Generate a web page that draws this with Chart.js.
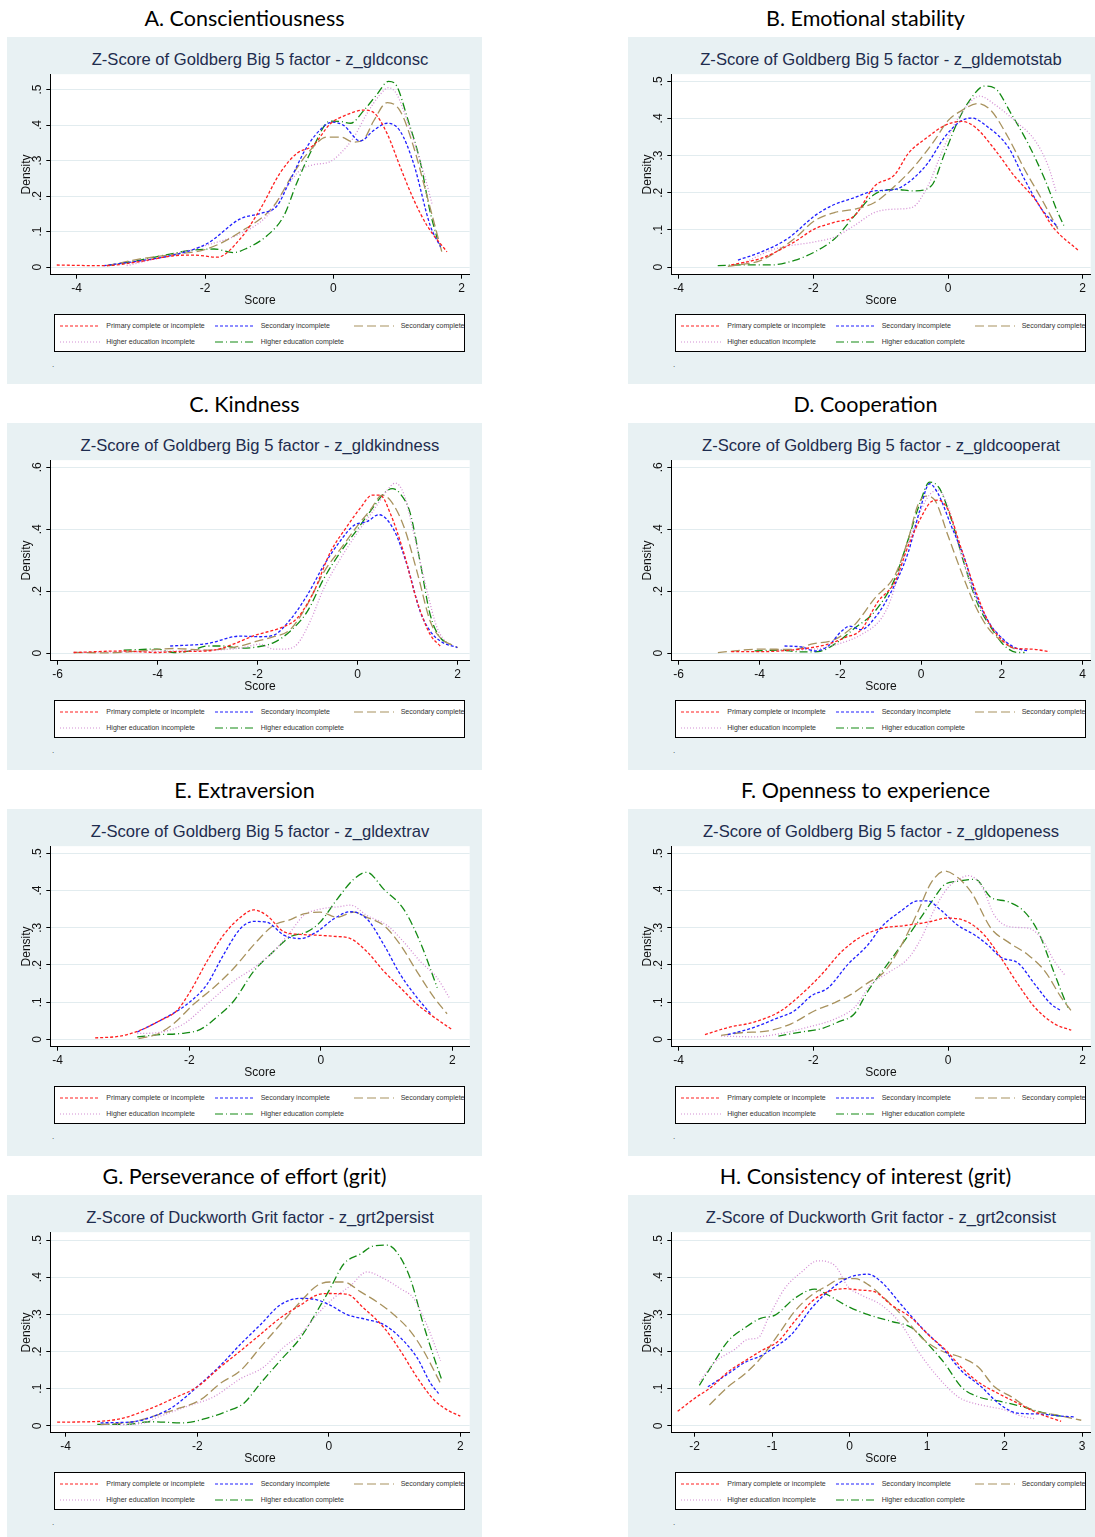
<!DOCTYPE html>
<html>
<head>
<meta charset="utf-8">
<script src="https://cdn.jsdelivr.net/npm/chart.js@4.4.1/dist/chart.umd.min.js"></script>
<style>
html, body { margin: 0; padding: 0; background: #fff; width: 1095px; height: 1537px; overflow: hidden; }
.panel { position: absolute; width: 475px; height: 346px; }
.bg { position: absolute; left: 0; top: -1px; width: 475px; height: 347px; background: #e8f1f3; }
.ptitle { position: absolute; left: 0; width: 475px; top: -34px; text-align: center; font: 21.5px Lato, sans-serif; color: #000; white-space: nowrap; line-height: 28px; }
.ctitle { position: absolute; left: 0; width: 506px; top: 12px; text-align: center; font: 16.6px "Liberation Sans", Arial, sans-serif; color: #1e2c4e; white-space: nowrap; line-height: 20px; }
.note { position: absolute; left: 45px; top: 322px; font: 8px "Liberation Sans", Arial, sans-serif; color: #333; }
canvas { position: absolute; left: 0; top: 25px; }
.legend { position: absolute; left: 47.3px; top: 275.7px; width: 411px; height: 38.6px; box-sizing: border-box; border: 1.3px solid #000; background: #fff; overflow: hidden; }
.legend span { position: absolute; font: 7px "Liberation Sans", Arial, sans-serif; color: #333; white-space: nowrap; line-height: 10px; }
.legend svg { position: absolute; }
</style>
</head>
<body>
<script>
// group names and styles
const seriesNames = ['Primary complete or incomplete', 'Secondary incomplete', 'Secondary complete',
  'Higher education incomplete', 'Higher education complete'];
const lineColors = ['#ff1f1f', '#1f1fff', '#a8925e', '#d48fd4', '#138a13'];
const lineDashes = [[3, 2], [3, 2], [9, 4], [1, 2], [8, 3, 1, 3]];

// A. Conscientiousness  [score, density]
const consPrimary = [[-4.31,0.006],[-3.58,0.004],[-3.01,0.016],[-2.49,0.032],[-2.18,0.034],[-1.81,0.028],[-1.45,0.080],[-1.14,0.163],[-0.83,0.265],[-0.57,0.320],[-0.31,0.343],[-0.05,0.403],[0.21,0.429],[0.47,0.442],[0.63,0.435],[0.84,0.375],[1.04,0.283],[1.25,0.191],[1.46,0.117],[1.77,0.043]];
const consSecInc = [[-3.58,0.004],[-3.01,0.018],[-2.49,0.034],[-1.97,0.066],[-1.45,0.136],[-1.14,0.151],[-0.88,0.172],[-0.67,0.246],[-0.41,0.339],[-0.15,0.396],[-0.02,0.408],[0.16,0.399],[0.42,0.355],[0.63,0.385],[0.84,0.405],[1.04,0.383],[1.25,0.292],[1.51,0.117],[1.67,0.057]];
const consSecComp = [[-3.53,0.004],[-3.01,0.023],[-2.49,0.036],[-1.97,0.051],[-1.45,0.099],[-0.93,0.172],[-0.62,0.265],[-0.36,0.329],[-0.10,0.366],[0.11,0.366],[0.32,0.352],[0.47,0.359],[0.63,0.412],[0.84,0.463],[1.04,0.440],[1.25,0.339],[1.46,0.200],[1.69,0.043]];
const consHighInc = [[-3.22,0.004],[-2.49,0.036],[-1.97,0.062],[-1.45,0.094],[-1.03,0.145],[-0.72,0.228],[-0.51,0.274],[-0.31,0.288],[-0.05,0.297],[0.11,0.320],[0.32,0.366],[0.52,0.431],[0.73,0.486],[0.86,0.505],[0.99,0.486],[1.20,0.385],[1.41,0.265],[1.54,0.177]];
const consHighComp = [[-3.53,0.004],[-3.01,0.020],[-2.49,0.039],[-2.18,0.048],[-1.86,0.051],[-1.55,0.041],[-1.35,0.053],[-1.03,0.089],[-0.77,0.145],[-0.57,0.237],[-0.31,0.339],[-0.05,0.411],[0.11,0.410],[0.27,0.405],[0.47,0.440],[0.68,0.486],[0.86,0.523],[0.99,0.509],[1.15,0.422],[1.36,0.292],[1.51,0.154],[1.62,0.080]];

// B. Emotional stability
const emotPrimary = [[-3.22,0.006],[-2.77,0.024],[-2.28,0.068],[-1.98,0.103],[-1.68,0.121],[-1.39,0.138],[-1.09,0.218],[-0.79,0.249],[-0.59,0.306],[-0.30,0.350],[-0.05,0.381],[0.20,0.392],[0.40,0.377],[0.70,0.315],[0.99,0.244],[1.29,0.183],[1.58,0.103],[1.93,0.046]];
const emotSecInc = [[-3.12,0.019],[-2.77,0.041],[-2.38,0.077],[-1.98,0.138],[-1.73,0.165],[-1.39,0.187],[-1.09,0.205],[-0.79,0.209],[-0.54,0.235],[-0.30,0.280],[-0.05,0.350],[0.20,0.394],[0.35,0.401],[0.59,0.377],[0.89,0.324],[1.14,0.235],[1.39,0.156],[1.63,0.108]];
const emotSecComp = [[-3.27,0.002],[-2.77,0.019],[-2.28,0.077],[-1.98,0.125],[-1.68,0.147],[-1.39,0.156],[-1.09,0.174],[-0.79,0.218],[-0.50,0.271],[-0.20,0.341],[0.00,0.394],[0.20,0.421],[0.45,0.440],[0.64,0.421],[0.89,0.350],[1.14,0.262],[1.39,0.183],[1.63,0.103]];
const emotHighInc = [[-3.07,0.008],[-2.57,0.049],[-1.98,0.068],[-1.68,0.081],[-1.39,0.112],[-1.09,0.147],[-0.79,0.156],[-0.54,0.160],[-0.30,0.218],[-0.10,0.306],[0.10,0.385],[0.30,0.438],[0.47,0.460],[0.69,0.438],[0.99,0.394],[1.29,0.341],[1.49,0.271],[1.61,0.200]];
const emotHighComp = [[-3.42,0.004],[-3.02,0.006],[-2.62,0.006],[-2.28,0.018],[-1.98,0.041],[-1.68,0.077],[-1.39,0.138],[-1.09,0.196],[-0.79,0.209],[-0.50,0.205],[-0.25,0.218],[-0.05,0.306],[0.15,0.394],[0.35,0.456],[0.54,0.487],[0.69,0.482],[0.94,0.412],[1.19,0.332],[1.44,0.235],[1.63,0.147],[1.73,0.108]];

// C. Kindness
const kindPrimary = [[-5.68,0.002],[-4.68,0.007],[-4.01,0.002],[-3.68,0.005],[-3.01,0.007],[-2.68,0.018],[-2.01,0.060],[-1.55,0.081],[-1.21,0.113],[-0.88,0.198],[-0.55,0.325],[-0.21,0.410],[0.05,0.468],[0.29,0.510],[0.45,0.510],[0.65,0.452],[0.92,0.325],[1.19,0.166],[1.45,0.060],[1.65,0.023]];
const kindSecInc = [[-3.75,0.023],[-3.01,0.031],[-2.35,0.055],[-1.95,0.053],[-1.68,0.058],[-1.35,0.108],[-1.01,0.187],[-0.68,0.283],[-0.35,0.362],[-0.08,0.412],[0.19,0.425],[0.42,0.447],[0.72,0.399],[0.99,0.283],[1.25,0.134],[1.45,0.071],[1.65,0.039],[1.99,0.018]];
const kindSecComp = [[-5.68,0.002],[-5.01,0.001],[-4.35,0.007],[-3.68,0.015],[-3.01,0.010],[-2.35,0.023],[-2.01,0.039],[-1.68,0.053],[-1.35,0.076],[-1.01,0.156],[-0.68,0.261],[-0.35,0.335],[-0.01,0.410],[0.25,0.462],[0.49,0.510],[0.65,0.494],[0.92,0.410],[1.19,0.261],[1.45,0.103],[1.65,0.050],[2.00,0.018]];
const kindHighInc = [[-5.68,0.002],[-3.68,0.007],[-2.35,0.016],[-1.95,0.029],[-1.68,0.013],[-1.48,0.013],[-1.21,0.029],[-0.95,0.103],[-0.68,0.208],[-0.35,0.304],[-0.01,0.388],[0.32,0.462],[0.59,0.526],[0.75,0.549],[0.92,0.515],[1.12,0.388],[1.39,0.198],[1.59,0.081],[1.79,0.029]];
const kindHighComp = [[-4.68,0.010],[-4.01,0.013],[-3.68,0.002],[-3.35,0.007],[-3.01,0.023],[-2.68,0.023],[-2.35,0.016],[-2.01,0.020],[-1.68,0.034],[-1.35,0.071],[-1.01,0.134],[-0.68,0.240],[-0.35,0.325],[-0.01,0.399],[0.32,0.473],[0.52,0.515],[0.69,0.531],[0.85,0.515],[1.05,0.452],[1.25,0.293],[1.45,0.124],[1.65,0.050],[1.85,0.029]];

// D. Cooperation
const coopPrimary = [[-4.70,0.005],[-3.95,0.005],[-3.13,0.011],[-2.30,0.029],[-1.89,0.050],[-1.48,0.076],[-1.07,0.166],[-0.65,0.230],[-0.32,0.346],[0.01,0.441],[0.25,0.489],[0.42,0.494],[0.67,0.462],[1.00,0.335],[1.33,0.208],[1.66,0.103],[1.99,0.044],[2.32,0.016],[2.73,0.013],[3.18,0.005]];
const coopSecInc = [[-3.38,0.023],[-2.96,0.020],[-2.63,0.007],[-2.30,0.023],[-1.97,0.071],[-1.77,0.087],[-1.48,0.076],[-1.15,0.113],[-0.74,0.198],[-0.32,0.325],[-0.03,0.462],[0.21,0.547],[0.42,0.515],[0.75,0.410],[1.08,0.304],[1.33,0.198],[1.66,0.103],[1.99,0.050],[2.32,0.018],[2.65,0.007]];
const coopSecComp = [[-5.03,0.002],[-3.95,0.013],[-3.13,0.012],[-2.72,0.029],[-2.14,0.044],[-1.64,0.092],[-1.15,0.177],[-0.65,0.251],[-0.32,0.367],[-0.08,0.478],[0.13,0.507],[0.34,0.494],[0.67,0.378],[1.00,0.261],[1.33,0.156],[1.66,0.081],[1.99,0.039],[2.40,0.007]];
const coopHighInc = [[-3.54,0.010],[-2.63,0.013],[-2.06,0.029],[-1.48,0.060],[-0.98,0.113],[-0.74,0.177],[-0.49,0.283],[-0.16,0.410],[0.17,0.505],[0.42,0.526],[0.67,0.473],[1.00,0.314],[1.33,0.187],[1.66,0.103],[1.99,0.050],[2.23,0.020]];
const coopHighComp = [[-4.12,0.007],[-3.54,0.010],[-2.96,0.004],[-2.55,0.005],[-2.14,0.029],[-1.64,0.081],[-1.15,0.134],[-0.65,0.240],[-0.32,0.367],[-0.03,0.484],[0.21,0.552],[0.46,0.531],[0.75,0.431],[1.08,0.283],[1.41,0.156],[1.74,0.081],[2.07,0.023],[2.40,0.002],[2.56,0.002]];

// E. Extraversion
const extrPrimary = [[-3.43,0.004],[-3.05,0.009],[-2.74,0.025],[-2.44,0.051],[-2.19,0.077],[-1.98,0.130],[-1.73,0.210],[-1.48,0.280],[-1.22,0.328],[-1.02,0.348],[-0.82,0.333],[-0.56,0.289],[-0.31,0.282],[-0.06,0.280],[0.20,0.277],[0.45,0.271],[0.70,0.236],[0.96,0.183],[1.21,0.139],[1.46,0.095],[1.72,0.060],[2.00,0.026]];
const extrSecInc = [[-2.79,0.020],[-2.44,0.051],[-2.03,0.095],[-1.73,0.148],[-1.48,0.227],[-1.22,0.298],[-1.02,0.317],[-0.82,0.315],[-0.56,0.280],[-0.31,0.271],[-0.06,0.289],[0.20,0.324],[0.45,0.343],[0.70,0.324],[0.96,0.254],[1.21,0.174],[1.46,0.113],[1.67,0.069]];
const extrSecComp = [[-2.77,0.002],[-2.49,0.014],[-2.24,0.042],[-1.93,0.095],[-1.63,0.139],[-1.32,0.192],[-1.02,0.254],[-0.72,0.306],[-0.46,0.322],[-0.26,0.337],[-0.01,0.342],[0.25,0.328],[0.50,0.342],[0.70,0.328],[0.96,0.306],[1.21,0.254],[1.46,0.183],[1.72,0.113],[1.92,0.069]];
const extrHighInc = [[-2.79,0.016],[-2.49,0.018],[-2.08,0.042],[-1.73,0.095],[-1.32,0.157],[-1.02,0.192],[-0.72,0.236],[-0.46,0.289],[-0.26,0.333],[-0.01,0.350],[0.30,0.357],[0.45,0.361],[0.70,0.333],[1.01,0.306],[1.26,0.262],[1.51,0.210],[1.77,0.165],[1.95,0.113]];
const extrHighComp = [[-2.79,0.007],[-2.44,0.013],[-2.13,0.016],[-1.83,0.027],[-1.58,0.060],[-1.32,0.104],[-1.02,0.183],[-0.72,0.236],[-0.46,0.276],[-0.21,0.289],[-0.01,0.315],[0.25,0.377],[0.50,0.430],[0.70,0.449],[0.96,0.403],[1.26,0.350],[1.51,0.262],[1.77,0.139]];

// F. Openness to experience
const openPrimary = [[-3.61,0.013],[-3.27,0.032],[-2.87,0.047],[-2.48,0.077],[-2.18,0.121],[-1.88,0.174],[-1.58,0.236],[-1.29,0.276],[-0.99,0.298],[-0.64,0.306],[-0.30,0.315],[0.00,0.326],[0.30,0.315],[0.54,0.280],[0.79,0.218],[1.04,0.148],[1.29,0.086],[1.58,0.042],[1.83,0.025]];
const openSecInc = [[-3.27,0.013],[-2.87,0.033],[-2.57,0.055],[-2.28,0.077],[-2.03,0.117],[-1.78,0.139],[-1.49,0.201],[-1.19,0.254],[-0.99,0.302],[-0.69,0.346],[-0.45,0.372],[-0.30,0.372],[-0.10,0.346],[0.15,0.306],[0.40,0.280],[0.59,0.254],[0.79,0.220],[1.04,0.205],[1.29,0.148],[1.53,0.095],[1.68,0.077]];
const openSecComp = [[-3.37,0.011],[-3.07,0.018],[-2.67,0.023],[-2.33,0.042],[-1.98,0.077],[-1.68,0.099],[-1.44,0.121],[-1.19,0.152],[-0.94,0.183],[-0.69,0.254],[-0.45,0.342],[-0.25,0.421],[-0.05,0.452],[0.15,0.434],[0.35,0.394],[0.64,0.298],[0.89,0.262],[1.19,0.227],[1.44,0.183],[1.68,0.113],[1.83,0.077]];
const openHighInc = [[-3.37,0.009],[-2.87,0.007],[-2.48,0.016],[-2.08,0.033],[-1.68,0.055],[-1.39,0.086],[-1.14,0.148],[-0.89,0.179],[-0.59,0.218],[-0.40,0.271],[-0.20,0.350],[0.00,0.408],[0.20,0.434],[0.30,0.440],[0.50,0.412],[0.69,0.333],[0.94,0.302],[1.19,0.299],[1.39,0.271],[1.58,0.210],[1.73,0.174]];
const openHighComp = [[-2.52,0.009],[-2.18,0.020],[-1.88,0.029],[-1.63,0.047],[-1.39,0.069],[-1.19,0.130],[-0.94,0.192],[-0.69,0.254],[-0.45,0.315],[-0.25,0.368],[-0.05,0.416],[0.15,0.425],[0.40,0.430],[0.64,0.381],[0.89,0.370],[1.14,0.342],[1.34,0.289],[1.53,0.201],[1.68,0.130],[1.78,0.086]];

// G. Perseverance of effort (grit)
const persPrimary = [[-4.13,0.010],[-3.62,0.011],[-3.17,0.019],[-2.76,0.043],[-2.36,0.074],[-2.00,0.105],[-1.65,0.158],[-1.34,0.202],[-1.04,0.246],[-0.74,0.290],[-0.43,0.325],[-0.18,0.352],[0.02,0.356],[0.28,0.354],[0.53,0.317],[0.84,0.264],[1.09,0.202],[1.34,0.131],[1.60,0.070],[1.80,0.043],[2.00,0.026]];
const persSecInc = [[-3.47,0.008],[-2.97,0.011],[-2.66,0.026],[-2.36,0.052],[-2.00,0.105],[-1.65,0.162],[-1.34,0.220],[-1.04,0.272],[-0.74,0.325],[-0.43,0.343],[-0.18,0.339],[0.02,0.325],[0.28,0.299],[0.58,0.286],[0.84,0.272],[1.09,0.237],[1.34,0.184],[1.55,0.114],[1.67,0.087]];
const persSecComp = [[-3.47,0.003],[-2.97,0.011],[-2.61,0.029],[-2.26,0.048],[-1.95,0.070],[-1.65,0.114],[-1.34,0.149],[-1.04,0.211],[-0.74,0.272],[-0.43,0.334],[-0.18,0.377],[0.02,0.387],[0.23,0.387],[0.48,0.361],[0.73,0.334],[0.99,0.299],[1.24,0.255],[1.44,0.202],[1.70,0.114]];
const persHighInc = [[-3.22,0.003],[-2.86,0.006],[-2.56,0.026],[-2.16,0.052],[-1.75,0.078],[-1.34,0.127],[-0.99,0.158],[-0.69,0.211],[-0.43,0.246],[-0.18,0.299],[0.07,0.343],[0.33,0.377],[0.58,0.414],[0.84,0.396],[1.09,0.369],[1.29,0.343],[1.49,0.272],[1.70,0.175]];
const persHighComp = [[-3.52,0.004],[-3.07,0.004],[-2.71,0.011],[-2.21,0.008],[-1.85,0.021],[-1.55,0.039],[-1.29,0.061],[-1.04,0.114],[-0.74,0.175],[-0.43,0.237],[-0.18,0.308],[0.02,0.369],[0.23,0.436],[0.48,0.462],[0.68,0.484],[0.89,0.486],[1.04,0.466],[1.24,0.396],[1.44,0.272],[1.60,0.184],[1.72,0.123]];

// H. Consistency of interest (grit)
const consiPrimary = [[-2.22,0.039],[-2.00,0.074],[-1.78,0.105],[-1.57,0.145],[-1.35,0.175],[-1.14,0.202],[-0.92,0.228],[-0.71,0.281],[-0.49,0.334],[-0.28,0.361],[-0.06,0.369],[0.15,0.365],[0.32,0.361],[0.54,0.325],[0.80,0.290],[1.01,0.246],[1.23,0.206],[1.44,0.158],[1.66,0.118],[1.92,0.087],[2.17,0.061],[2.43,0.034],[2.73,0.012]];
const consiSecInc = [[-1.83,0.105],[-1.57,0.140],[-1.35,0.171],[-1.14,0.189],[-0.97,0.211],[-0.75,0.246],[-0.49,0.317],[-0.28,0.361],[-0.02,0.398],[0.24,0.408],[0.41,0.387],[0.67,0.325],[0.93,0.264],[1.23,0.202],[1.44,0.149],[1.70,0.105],[1.92,0.061],[2.17,0.034],[2.43,0.032],[2.73,0.026],[2.91,0.024]];
const consiSecComp = [[-1.81,0.056],[-1.57,0.105],[-1.35,0.140],[-1.14,0.184],[-0.92,0.246],[-0.71,0.308],[-0.49,0.352],[-0.28,0.378],[-0.11,0.396],[0.07,0.396],[0.24,0.380],[0.45,0.343],[0.71,0.290],[0.93,0.237],[1.18,0.202],[1.44,0.184],[1.66,0.158],[1.87,0.105],[2.09,0.078],[2.35,0.043],[2.65,0.030],[2.99,0.015]];
const consiHighInc = [[-1.94,0.118],[-1.74,0.171],[-1.48,0.206],[-1.31,0.233],[-1.18,0.237],[-1.05,0.290],[-0.84,0.369],[-0.62,0.414],[-0.41,0.444],[-0.19,0.431],[-0.02,0.374],[0.15,0.352],[0.41,0.325],[0.67,0.272],[0.88,0.202],[1.14,0.131],[1.40,0.078],[1.53,0.065],[1.79,0.052],[2.00,0.043],[2.22,0.026],[2.39,0.019]];
const consiHighComp = [[-1.94,0.109],[-1.74,0.175],[-1.57,0.228],[-1.35,0.264],[-1.14,0.290],[-0.97,0.297],[-0.71,0.343],[-0.45,0.368],[-0.28,0.352],[-0.02,0.321],[0.24,0.299],[0.54,0.281],[0.80,0.264],[1.01,0.220],[1.23,0.167],[1.44,0.105],[1.66,0.078],[1.96,0.065],[2.22,0.052],[2.52,0.034],[2.73,0.026]];

// tick labels
const ticksX4to2 = [-4, -2, 0, 2];
const ticksX6to2 = [-6, -4, -2, 0, 2];
const ticksX6to4 = [-6, -4, -2, 0, 2, 4];
const ticksX2to3 = [-2, -1, 0, 1, 2, 3];
const ticksY05 = [0, 0.1, 0.2, 0.3, 0.4, 0.5];
const ticksY06 = [0, 0.2, 0.4, 0.6];

const panels = [
  { left: 7, top: 38, heading: 'A. Conscientiousness', title: 'Z-Score of Goldberg Big 5 factor - z_gldconsc',
    x: [-4.411, 2.125], y: [-0.0213, 0.543], xt: ticksX4to2, yt: ticksY05,
    series: [consPrimary, consSecInc, consSecComp, consHighInc, consHighComp] },
  { left: 628, top: 38, heading: 'B. Emotional stability', title: 'Z-Score of Goldberg Big 5 factor - z_gldemotstab',
    x: [-4.11, 2.119], y: [-0.0204, 0.519], xt: ticksX4to2, yt: ticksY05,
    series: [emotPrimary, emotSecInc, emotSecComp, emotHighInc, emotHighComp] },
  { left: 7, top: 424, heading: 'C. Kindness', title: 'Z-Score of Goldberg Big 5 factor - z_gldkindness',
    x: [-6.148, 2.24], y: [-0.0244, 0.623], xt: ticksX6to2, yt: ticksY06,
    series: [kindPrimary, kindSecInc, kindSecComp, kindHighInc, kindHighComp] },
  { left: 628, top: 424, heading: 'D. Cooperation', title: 'Z-Score of Goldberg Big 5 factor - z_gldcooperat',
    x: [-6.183, 4.198], y: [-0.0244, 0.623], xt: ticksX6to4, yt: ticksY06,
    series: [coopPrimary, coopSecInc, coopSecComp, coopHighInc, coopHighComp] },
  { left: 7, top: 810, heading: 'E. Extraversion', title: 'Z-Score of Goldberg Big 5 factor - z_gldextrav',
    x: [-4.112, 2.264], y: [-0.0195, 0.519], xt: ticksX4to2, yt: ticksY05,
    series: [extrPrimary, extrSecInc, extrSecComp, extrHighInc, extrHighComp] },
  { left: 628, top: 810, heading: 'F. Openness to experience', title: 'Z-Score of Goldberg Big 5 factor - z_gldopeness',
    x: [-4.11, 2.119], y: [-0.0195, 0.519], xt: ticksX4to2, yt: ticksY05,
    series: [openPrimary, openSecInc, openSecComp, openHighInc, openHighComp] },
  { left: 7, top: 1196, heading: 'G. Perseverance of effort (grit)', title: 'Z-Score of Duckworth Grit factor - z_grt2persist',
    x: [-4.234, 2.143], y: [-0.0185, 0.521], xt: ticksX4to2, yt: ticksY05,
    series: [persPrimary, persSecInc, persSecComp, persHighInc, persHighComp] },
  { left: 628, top: 1196, heading: 'H. Consistency of interest (grit)', title: 'Z-Score of Duckworth Grit factor - z_grt2consist',
    x: [-2.302, 3.112], y: [-0.0185, 0.521], xt: ticksX2to3, yt: ticksY05,
    series: [consiPrimary, consiSecInc, consiSecComp, consiHighInc, consiHighComp] }
];

const axisFont = { family: '"Liberation Sans", Arial, sans-serif', size: 12 };

// white plot region like Stata
const plotRegion = {
  id: 'plotRegion',
  beforeDraw(chart) {
    const a = chart.chartArea;
    chart.ctx.save();
    chart.ctx.fillStyle = '#fff';
    chart.ctx.fillRect(a.left, a.top, a.right - a.left, a.bottom - a.top);
    chart.ctx.restore();
  }
};

function legendHtml() {
  const cols = [[5, 51], [159.4, 205.4], [298.7, 345.4]];
  const rows = [11.6, 27.6];
  return seriesNames.map((n, i) => {
    const c = cols[i % 3], r = rows[Math.floor(i / 3)];
    return '<svg style="left:' + c[0] + 'px;top:' + (r - 2) + 'px" width="40" height="4">' +
      '<line x1="0" y1="2" x2="40" y2="2" stroke="' + lineColors[i] + '" stroke-width="1.2" stroke-dasharray="' +
      lineDashes[i].join(' ') + '"/></svg>' +
      '<span style="left:' + c[1] + 'px;top:' + (r - 5.5) + 'px">' + n + '</span>';
  }).join('');
}

panels.forEach(p => {
  const div = document.createElement('div');
  div.className = 'panel';
  div.style.left = p.left + 'px';
  div.style.top = p.top + 'px';
  div.innerHTML = '<div class="bg"></div><div class="ptitle">' + p.heading + '</div>' +
    '<div class="ctitle">' + p.title + '</div><div class="note">.</div>' +
    '<div class="legend">' + legendHtml() + '</div>';
  const cv = document.createElement('canvas');
  cv.width = 475;
  cv.height = 250;
  div.appendChild(cv);
  document.body.appendChild(div);

  new Chart(cv.getContext('2d'), {
    type: 'line',
    data: {
      datasets: p.series.map((s, i) => ({
        label: seriesNames[i],
        data: s.map(([x, y]) => ({ x, y })),
        borderColor: lineColors[i],
        borderDash: lineDashes[i],
        borderWidth: 1.3,
        pointRadius: 0,
        fill: false,
        cubicInterpolationMode: 'monotone'
      }))
    },
    options: {
      responsive: false,
      animation: false,
      devicePixelRatio: 1,
      layout: { padding: { left: 0, top: 7.7, right: 12.3, bottom: 0 }, autoPadding: false },
      plugins: { legend: { display: false }, tooltip: { enabled: false } },
      scales: {
        x: {
          type: 'linear', min: p.x[0], max: p.x[1],
          afterBuildTicks: s => { s.ticks = p.xt.map(v => ({ value: v })); },
          afterFit: s => { s.height = 38.3; },
          ticks: { padding: 3, font: axisFont, color: '#111', maxRotation: 0, autoSkip: false,
            callback: v => String(v) },
          grid: { drawOnChartArea: false, drawTicks: true, tickLength: 4, tickColor: '#000' },
          border: { display: true, color: '#000', width: 1 },
          title: { display: true, text: 'Score', font: axisFont, color: '#111', padding: { top: 0, bottom: 4.8 } }
        },
        y: {
          type: 'linear', min: p.y[0], max: p.y[1],
          afterBuildTicks: s => { s.ticks = p.yt.map(v => ({ value: v })); },
          afterFit: s => { s.width = 43.3; },
          ticks: { padding: 4, font: axisFont, color: '#111', minRotation: 90, maxRotation: 90, crossAlign: 'center',
            autoSkip: false, callback: v => v === 0 ? '0' : v.toFixed(1).replace(/^0/, '') },
          grid: { color: '#e2ecef', drawTicks: true, tickLength: 4, tickColor: '#000' },
          border: { display: true, color: '#000', width: 1 },
          title: { display: true, text: 'Density', font: axisFont, color: '#111', padding: { top: 12.8, bottom: 0 } }
        }
      }
    },
    plugins: [plotRegion]
  });
});
</script>
</body>
</html>
